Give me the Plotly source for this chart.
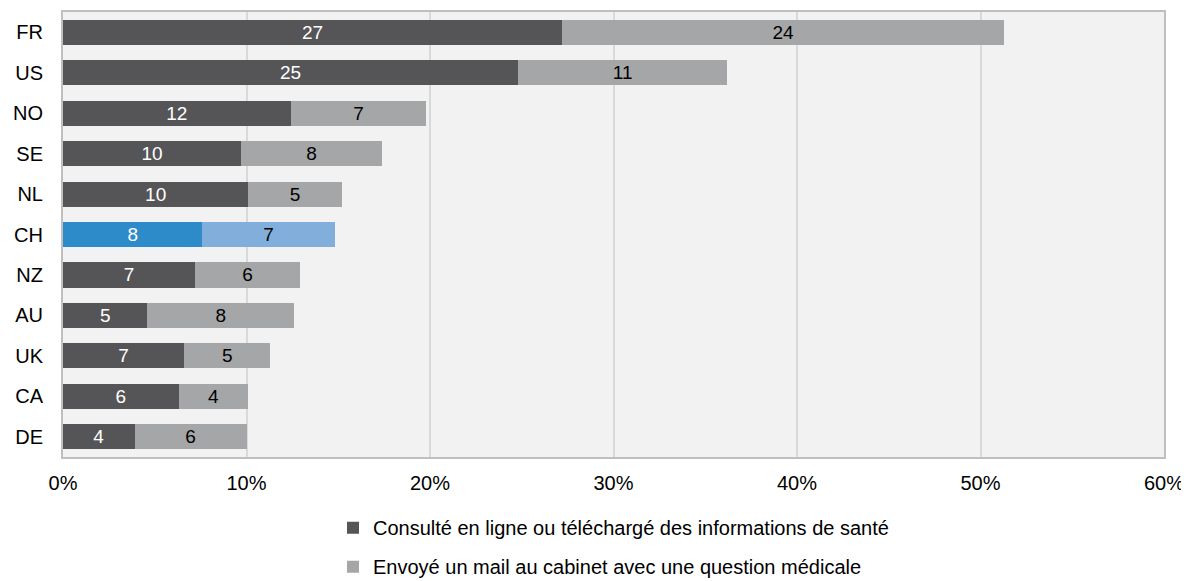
import plotly.graph_objects as go

# Data (percent)
countries = ['FR', 'US', 'NO', 'SE', 'NL', 'CH', 'NZ', 'AU', 'UK', 'CA', 'DE']
consulte = [27.2, 24.8, 12.4, 9.7, 10.1, 7.6, 7.2, 4.6, 6.6, 6.3, 3.9]
mail = [24.1, 11.4, 7.4, 7.7, 5.1, 7.2, 5.7, 8.0, 4.7, 3.8, 6.1]

name_consulte = 'Consulté en ligne ou téléchargé des informations de santé'
name_mail = 'Envoyé un mail au cabinet avec une question médicale'

DARK = '#555557'
LIGHT = '#A5A6A8'
DARK_CH = '#2E8BC9'
LIGHT_CH = '#82AEDC'

dark_colors = [DARK_CH if c == 'CH' else DARK for c in countries]
light_colors = [LIGHT_CH if c == 'CH' else LIGHT for c in countries]

fig = go.Figure()

fig.add_trace(go.Bar(
    y=countries,
    x=consulte,
    orientation='h',
    name=name_consulte,
    legendgroup='a',
    marker=dict(color=dark_colors, line=dict(width=0)),
    text=[f'{v:.0f}' for v in consulte],
    textposition='inside',
    insidetextanchor='middle',
    constraintext='none',
    textangle=0,
    textfont=dict(color='white', size=19),
    hoverinfo='skip'
))

fig.add_trace(go.Bar(
    y=countries,
    x=mail,
    orientation='h',
    name=name_mail,
    legendgroup='b',
    marker=dict(color=light_colors, line=dict(width=0)),
    text=[f'{v:.0f}' for v in mail],
    textposition='inside',
    insidetextanchor='middle',
    constraintext='none',
    textangle=0,
    textfont=dict(color='black', size=19),
    hoverinfo='skip'
))

# page body has an 8px margin, so the figure is shifted by 8px
fig.update_layout(
    width=1181,
    height=573,
    barmode='stack',
    bargap=0.38,
    paper_bgcolor='white',
    plot_bgcolor='#F2F2F2',
    font=dict(family='Liberation Sans, Arial, sans-serif', size=20, color='#000000'),
    margin=dict(l=55, r=25, t=4, b=124, autoexpand=False),
    legend=dict(
        orientation='v',
        x=0.5, xanchor='center',
        y=-0.115, yanchor='top',
        font=dict(size=20),
        tracegroupgap=10,
        itemwidth=30,
        bgcolor='rgba(0,0,0,0)'
    ),
    showlegend=True
)

fig.update_xaxes(
    range=[0, 60],
    dtick=10,
    ticksuffix='%',
    showgrid=True,
    gridcolor='#D9D9D9',
    gridwidth=2,
    zeroline=False,
    showline=True,
    linecolor='#BFBFBF',
    linewidth=2,
    mirror=True,
    ticks='outside',
    ticklen=7,
    tickcolor='rgba(0,0,0,0)'
)

fig.update_yaxes(
    autorange='reversed',
    showgrid=False,
    zeroline=False,
    showline=True,
    linecolor='#BFBFBF',
    linewidth=2,
    mirror=True,
    ticks='outside',
    ticklen=14,
    tickcolor='rgba(0,0,0,0)'
)

fig.write_html('out.html')
